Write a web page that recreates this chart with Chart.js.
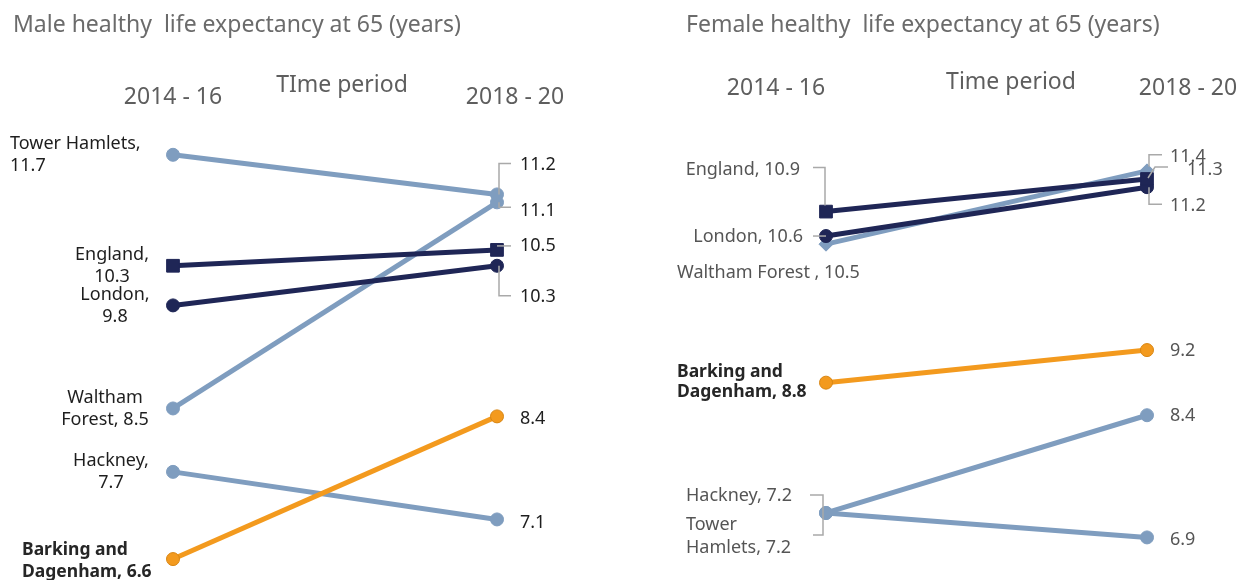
<!DOCTYPE html>
<html><head><meta charset="utf-8">
<script src="https://cdn.jsdelivr.net/npm/chart.js@4/dist/chart.umd.min.js"></script>
<style>
html,body{margin:0;padding:0;background:#fff;}
#wrap{position:relative;width:1241px;height:580px;overflow:hidden;}
.box{position:absolute;top:0;height:580px;}
</style></head><body>
<div id="wrap">
<div class="box" style="left:0;width:620px"><canvas id="male"></canvas></div>
<div class="box" style="left:620px;width:621px"><canvas id="female"></canvas></div>
</div>
<script>
// ---- data ----
const periods = ['2014 - 16', '2018 - 20'];
const areas = ['Tower Hamlets', 'England', 'London', 'Waltham Forest', 'Hackney', 'Barking and Dagenham'];
const maleStart = [11.7, 10.3, 9.8, 8.5, 7.7, 6.6];
const maleEnd = [11.2, 10.5, 10.3, 11.1, 7.1, 8.4];
const femaleStart = [7.2, 10.9, 10.6, 10.5, 7.2, 8.8];
const femaleEnd = [6.9, 11.3, 11.2, 11.4, 8.4, 9.2];
const maleTitle = 'Male healthy  life expectancy at 65 (years)';
const femaleTitle = 'Female healthy  life expectancy at 65 (years)';
const maleAxisTitle = 'TIme period';
const femaleAxisTitle = 'Time period';

// ---- styles ----
const LIGHT = '#7f9dbf', NAVY = '#1f2656', ORANGE = '#f39a1e';
const FONT = "'Noto Sans', sans-serif";
const colorOf = ['LIGHT', 'NAVY', 'NAVY', 'LIGHT', 'LIGHT', 'ORANGE'].map(c => ({LIGHT, NAVY, ORANGE})[c]);
const drawOrder = [3, 0, 1, 4, 5, 2];
const malePointStyle = ['circle', 'rect', 'circle', 'circle', 'circle', 'circle'];
const femalePointStyle = ['circle', 'rect', 'circle', 'rectRot', 'circle', 'circle'];

// label layout: [startLabel, endLabel] per area; offsets relative to the point
const maleLayout = [
  [{dx: -163, dy: -11, align: 'left', breaks: [2]}, {dx: 23, dy: -30, leader: [[2, 0], [2, -31], [14, -31]]}],
  [{dx: -61, dy: -11, align: 'center', breaks: [1]}, {dx: 23, dy: -4, leader: [[0, -4], [14, -4]]}],
  [{dx: -58, dy: -11, align: 'center', breaks: [1]}, {dx: 23, dy: 31, leader: [[2, 0], [2, 30], [14, 30]]}],
  [{dx: -68, dy: -11, align: 'center', breaks: [1]}, {dx: 23, dy: 9, leader: [[2, 0], [2, 5], [14, 5]]}],
  [{dx: -62, dy: -11, align: 'center', breaks: [1]}, {dx: 23, dy: 3}],
  [{dx: -151, dy: -9, align: 'left', breaks: [2], bold: true}, {dx: 23, dy: 2}]
];
const femaleLayout = [
  [{dx: -140, dy: 12, align: 'left', breaks: [1], lh: 23, leader: [[-3, 0], [-3, 22], [-13, 22]]}, {dx: 23, dy: 2}],
  [{dx: -26, dy: -42, align: 'right', leader: [[-13, -44], [-1, -44], [-1, -6]]}, {dx: 40, dy: -9, leader: [[1, -1], [8, -12], [21, -12]]}],
  [{dx: -23, dy: 1, align: 'right', leader: [[-13, 0], [0, 0]]}, {dx: 23, dy: 19, leader: [[2, 0], [2, 17], [15, 17]]}],
  [{dx: -149, dy: 29, align: 'left', sep: ' , '}, {dx: 23, dy: -14, leader: [[2, -4], [2, -16], [15, -16]]}],
  [{dx: -140, dy: -17, align: 'left', leader: [[-16, -18], [-3, -18], [-3, 0]]}, {dx: 23, dy: 1}],
  [{dx: -149, dy: -11, align: 'left', breaks: [2], bold: true, lh: 20}, {dx: 23, dy: 1}]
];

const slopeLabels = {
  id: 'slopeLabels',
  afterDatasetsDraw(chart, args, opts) {
    const ctx = chart.ctx;
    ctx.save();
    // title
    ctx.font = `23px ${FONT}`;
    ctx.fillStyle = '#6b6b6b';
    ctx.textBaseline = 'middle';
    ctx.textAlign = 'left';
    ctx.fillText(opts.title, opts.titleX, 25);
    // period headers and axis title
    const xs = chart.scales.x;
    ctx.font = `23px ${FONT}`;
    ctx.fillStyle = '#5e5e5e';
    ctx.textAlign = 'center';
    periods.forEach((p, i) => {
      ctx.fillText(p, xs.getPixelForValue(i) + opts.headDx[i], opts.headY);
    });
    ctx.fillText(opts.axisTitle, opts.axisX, opts.axisY);
    // point labels
    chart.data.datasets.forEach((ds, di) => {
      const meta = chart.getDatasetMeta(di);
      meta.data.forEach((pt, pi) => {
        const spec = opts.layout[di][pi];
        const v = ds.data[pi].toFixed(1);
        const text = pi === 0 ? `${areas[di]}${spec.sep || ', '}${v}` : v;
        // leader
        if (spec.leader) {
          ctx.strokeStyle = '#a9a9a9';
          ctx.lineWidth = 1.5;
          ctx.beginPath();
          spec.leader.forEach(([lx, ly], k) => {
            const X = pt.x + lx, Y = pt.y + ly;
            k ? ctx.lineTo(X, Y) : ctx.moveTo(X, Y);
          });
          ctx.stroke();
        }
        // split lines
        const words = text.split(' ');
        const lines = [];
        let start = 0;
        (spec.breaks || []).forEach(b => { lines.push(words.slice(start, start + b).join(' ')); start += b; });
        lines.push(words.slice(start).join(' '));
        ctx.font = spec.bold ? `bold 17.5px ${FONT}` : `18px ${FONT}`;
        ctx.fillStyle = spec.bold ? '#262626' : opts.labelColor;
        ctx.textAlign = spec.align || 'left';
        ctx.textBaseline = 'middle';
        const lh = spec.lh || opts.lh;
        lines.forEach((ln, k) => ctx.fillText(ln, pt.x + spec.dx, pt.y + spec.dy + k * lh));
      });
    });
    ctx.restore();
  }
};

function makeChart(id, starts, ends, pointStyles, cfg) {
  const datasets = areas.map((a, i) => {
    const isRect = pointStyles[i] === 'rect';
    const isDiamond = pointStyles[i] === 'rectRot';
    return {
      label: a,
      data: [starts[i], ends[i]],
      borderColor: colorOf[i],
      backgroundColor: colorOf[i],
      pointBackgroundColor: colorOf[i],
      pointBorderColor: colorOf[i] === ORANGE ? '#d88614' : colorOf[i],
      pointBorderWidth: 1,
      borderWidth: 5,
      pointStyle: pointStyles[i],
      pointRadius: isRect ? 9 : (isDiamond ? 7 : 6.5),
      tension: 0,
      order: drawOrder[i],
      clip: false
    };
  });
  return new Chart(document.getElementById(id), {
    type: 'line',
    data: {labels: periods, datasets},
    options: {
      responsive: true,
      maintainAspectRatio: false,
      animation: false,
      events: [],
      layout: {padding: cfg.padding},
      scales: {
        x: {type: 'category', display: false, offset: false},
        y: {type: 'linear', display: false, min: 6.5, max: 12}
      },
      plugins: {
        legend: {display: false},
        tooltip: {enabled: false},
        title: {display: false},
        slopeLabels: cfg.labels
      }
    },
    plugins: [slopeLabels]
  });
}

makeChart('male', maleStart, maleEnd, malePointStyle, {
  padding: {left: 173, right: 123, top: 131, bottom: 13},
  labels: {title: maleTitle, titleX: 13, headDx: [0, 18], headY: 97, axisTitle: maleAxisTitle, axisX: 342, axisY: 85,
    layout: maleLayout, labelColor: '#1e1e1e', lh: 22}
});
makeChart('female', femaleStart, femaleEnd, femalePointStyle, {
  padding: {left: 206, right: 94, top: 122, bottom: 9},
  labels: {title: femaleTitle, titleX: 66, headDx: [-50, 41], headY: 88, axisTitle: femaleAxisTitle, axisX: 391, axisY: 82,
    layout: femaleLayout, labelColor: '#555555', lh: 22}
});
</script>
</body></html>
